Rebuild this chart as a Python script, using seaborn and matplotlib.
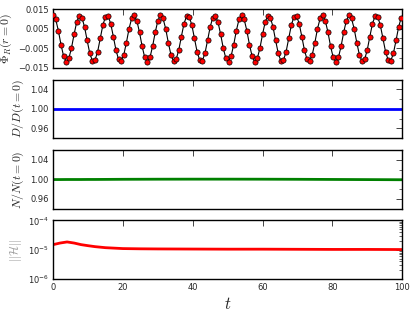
import matplotlib
matplotlib.use("Agg")
import matplotlib.pyplot as plt
import seaborn as sns
import numpy as np
from matplotlib.ticker import MultipleLocator, LogLocator, NullFormatter

# scalar field at the origin, sampled every 0.75 in t
t_phi = [
    0.0, 0.75, 1.5, 2.25, 3.0, 3.75, 4.5, 5.25, 6.0, 6.75,
    7.5, 8.25, 9.0, 9.75, 10.5, 11.25, 12.0, 12.75, 13.5, 14.25,
    15.0, 15.75, 16.5, 17.25, 18.0, 18.75, 19.5, 20.25, 21.0, 21.75,
    22.5, 23.25, 24.0, 24.75, 25.5, 26.25, 27.0, 27.75, 28.5, 29.25,
    30.0, 30.75, 31.5, 32.25, 33.0, 33.75, 34.5, 35.25, 36.0, 36.75,
    37.5, 38.25, 39.0, 39.75, 40.5, 41.25, 42.0, 42.75, 43.5, 44.25,
    45.0, 45.75, 46.5, 47.25, 48.0, 48.75, 49.5, 50.25, 51.0, 51.75,
    52.5, 53.25, 54.0, 54.75, 55.5, 56.25, 57.0, 57.75, 58.5, 59.25,
    60.0, 60.75, 61.5, 62.25, 63.0, 63.75, 64.5, 65.25, 66.0, 66.75,
    67.5, 68.25, 69.0, 69.75, 70.5, 71.25, 72.0, 72.75, 73.5, 74.25,
    75.0, 75.75, 76.5, 77.25, 78.0, 78.75, 79.5, 80.25, 81.0, 81.75,
    82.5, 83.25, 84.0, 84.75, 85.5, 86.25, 87.0, 87.75, 88.5, 89.25,
    90.0, 90.75, 91.5, 92.25, 93.0, 93.75, 94.5, 95.25, 96.0, 96.75,
    97.5, 98.25, 99.0, 99.75,
]
phi_r0 = [
    0.0118, 0.0097, 0.0040, -0.0031, -0.0090, -0.0118, -0.0102, -0.0050, 0.0021, 0.0083,
    0.0116, 0.0107, 0.0059, -0.0010, -0.0076, -0.0114, -0.0111, -0.0068, 0.0000, 0.0068,
    0.0111, 0.0114, 0.0076, 0.0010, -0.0059, -0.0107, -0.0116, -0.0083, -0.0021, 0.0050,
    0.0102, 0.0118, 0.0090, 0.0031, -0.0040, -0.0097, -0.0118, -0.0097, -0.0040, 0.0031,
    0.0090, 0.0118, 0.0102, 0.0050, -0.0021, -0.0083, -0.0116, -0.0107, -0.0059, 0.0010,
    0.0076, 0.0114, 0.0111, 0.0068, 0.0000, -0.0068, -0.0111, -0.0114, -0.0076, -0.0010,
    0.0059, 0.0107, 0.0116, 0.0083, 0.0021, -0.0050, -0.0102, -0.0118, -0.0090, -0.0031,
    0.0040, 0.0097, 0.0118, 0.0097, 0.0040, -0.0031, -0.0090, -0.0118, -0.0102, -0.0050,
    0.0021, 0.0083, 0.0116, 0.0107, 0.0059, -0.0010, -0.0076, -0.0114, -0.0111, -0.0068,
    0.0000, 0.0068, 0.0111, 0.0114, 0.0076, 0.0010, -0.0059, -0.0107, -0.0116, -0.0083,
    -0.0021, 0.0050, 0.0102, 0.0118, 0.0090, 0.0031, -0.0040, -0.0097, -0.0118, -0.0097,
    -0.0040, 0.0031, 0.0090, 0.0118, 0.0102, 0.0050, -0.0021, -0.0083, -0.0116, -0.0107,
    -0.0059, 0.0010, 0.0076, 0.0114, 0.0111, 0.0068, 0.0000, -0.0068, -0.0111, -0.0114,
    -0.0076, -0.0010, 0.0059, 0.0107,
]

# diagnostics
t_diag = [0, 2, 4, 6, 8, 10, 12, 15, 20, 25, 30, 40, 50, 60, 70, 80, 90, 100]
d_ratio = [1.0] * len(t_diag)
n_ratio = [0.9996, 0.9996, 0.9997, 0.9997, 0.9997, 0.9998, 0.9998, 0.9999, 1.0001, 1.0002,
           1.0003, 1.0004, 1.0004, 1.0003, 1.0001, 0.9998, 0.9995, 0.9992]
ham_norm = [1.5e-5, 1.7e-5, 1.85e-5, 1.7e-5, 1.5e-5, 1.38e-5, 1.28e-5, 1.18e-5, 1.1e-5, 1.08e-5,
            1.07e-5, 1.06e-5, 1.05e-5, 1.05e-5, 1.04e-5, 1.03e-5, 1.03e-5, 1.02e-5]

sns.set_style("white")
plt.rcParams["mathtext.fontset"] = "cm"
plt.rcParams["font.family"] = ["DejaVu Sans"]

fig, axes = plt.subplots(4, 1, figsize=(4.15, 3.14), dpi=100, sharex=True)
fig.subplots_adjust(left=0.128, right=0.969, top=0.971, bottom=0.111, hspace=0.2)

ax = axes[0]
sns.lineplot(x=t_phi, y=phi_r0, ax=ax, color="black", lw=0.8)
sns.scatterplot(x=t_phi, y=phi_r0, ax=ax, color="red", edgecolor="black",
                s=14, linewidth=0.5, zorder=3)
ax.set_ylim(-0.015, 0.015)
ax.set_yticks([-0.015, -0.005, 0.005, 0.015])
ax.yaxis.set_minor_locator(MultipleLocator(0.005))
ax.set_ylabel(r"$\Phi_R(r=0)$", fontsize=8.5, labelpad=3)

ax = axes[1]
sns.lineplot(x=t_diag, y=d_ratio, ax=ax, color="blue", lw=2)
ax.set_ylim(0.94, 1.06)
ax.set_yticks([0.96, 1.00, 1.04])
ax.yaxis.set_minor_locator(MultipleLocator(0.02))
ax.set_ylabel(r"$D/D(t=0)$", fontsize=8.5, labelpad=3)

ax = axes[2]
sns.lineplot(x=t_diag, y=n_ratio, ax=ax, color="green", lw=2)
ax.set_ylim(0.94, 1.06)
ax.set_yticks([0.96, 1.00, 1.04])
ax.yaxis.set_minor_locator(MultipleLocator(0.02))
ax.set_ylabel(r"$N/N(t=0)$", fontsize=8.5, labelpad=3)

ax = axes[3]
sns.lineplot(x=t_diag, y=ham_norm, ax=ax, color="red", lw=2)
ax.set_yscale("log")
ax.set_ylim(1e-6, 1e-4)
ax.yaxis.set_minor_locator(LogLocator(base=10, subs=np.arange(2, 10)))
ax.yaxis.set_minor_formatter(NullFormatter())
ax.set_ylabel(r"$||\mathcal{H}||$", fontsize=8.5, color="#999999", labelpad=3)
ax.set_xlabel(r"$t$", fontsize=12, labelpad=2)

for ax in axes:
    ax.set_xlim(0, 100)
    ax.set_xticks([0, 20, 40, 60, 80, 100])
    ax.tick_params(which="both", direction="in", top=True, right=True,
                   labelsize=6, pad=3)
    ax.tick_params(which="major", length=4, width=0.6)
    ax.tick_params(which="minor", length=2, width=0.5)
    for s in ax.spines.values():
        s.set_linewidth(1.0)
        s.set_color("black")

fig.savefig("out.png", dpi=100)
